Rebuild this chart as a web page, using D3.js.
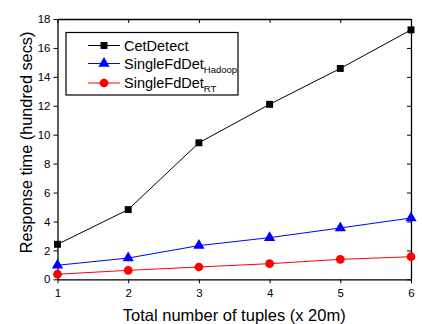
<!DOCTYPE html>
<html>
<head>
<meta charset="utf-8">
<script src="https://cdn.jsdelivr.net/npm/d3@7"></script>
<style>
  body { margin: 0; background: #fff; }
  text { font-family: "Liberation Sans", Arial, sans-serif; }
</style>
</head>
<body>
<div id="chart"></div>
<script>
// Data
const tuples = [1, 2, 3, 4, 5, 6];
const cetDetect = [2.42, 4.82, 9.44, 12.1, 14.58, 17.25];
const singleHadoop = [0.97, 1.47, 2.33, 2.88, 3.55, 4.24];
const singleRT = [0.35, 0.62, 0.85, 1.08, 1.38, 1.56];
const yTicks = [0, 2, 4, 6, 8, 10, 12, 14, 16, 18];

const series = [
  { name: "CetDetect", sub: "", values: cetDetect, color: "#000000", marker: d3.symbolSquare, size: 48 },
  { name: "SingleFdDet", sub: "Hadoop", values: singleHadoop, color: "#0000ff", marker: d3.symbolTriangle, size: 55 },
  { name: "SingleFdDet", sub: "RT", values: singleRT, color: "#ff0000", marker: d3.symbolCircle, size: 60 },
];

// Dimensions
const dimensions = { width: 422, height: 324, left: 57.5, right: 411, top: 19, bottom: 279.3 };

const svg = d3.select("#chart").append("svg")
  .attr("width", dimensions.width)
  .attr("height", dimensions.height);

const xScale = d3.scaleLinear().domain([1, 6]).range([dimensions.left, dimensions.right]);
const yScale = d3.scaleLinear().domain([0, 18]).range([dimensions.bottom, dimensions.top]);

// Axes
const bottomAxis = svg.append("g")
  .attr("transform", `translate(0,${dimensions.bottom})`)
  .call(d3.axisBottom(xScale).tickValues(tuples).tickFormat(d3.format("d")).tickSize(4).tickSizeOuter(0));
const leftAxis = svg.append("g")
  .attr("transform", `translate(${dimensions.left},0)`)
  .call(d3.axisLeft(yScale).tickValues(yTicks).tickSize(4).tickSizeOuter(0));
const topAxis = svg.append("g")
  .attr("transform", `translate(0,${dimensions.top})`)
  .call(d3.axisTop(xScale).tickValues(tuples).tickFormat("").tickSize(-4).tickSizeOuter(0));
const rightAxis = svg.append("g")
  .attr("transform", `translate(${dimensions.right},0)`)
  .call(d3.axisRight(yScale).tickValues(yTicks).tickFormat("").tickSize(-4).tickSizeOuter(0));

[bottomAxis, leftAxis, topAxis, rightAxis].forEach((g) => {
  g.select(".domain").attr("stroke", "#000").attr("stroke-width", 1.3);
  g.selectAll(".tick line").attr("stroke", "#000").attr("stroke-width", 1);
  g.selectAll(".tick text").attr("font-size", 11.5).attr("fill", "#000")
    .style("font-family", "'Liberation Sans', Arial, sans-serif");
});
bottomAxis.selectAll(".tick text").attr("dy", "0.95em");

// Axis titles
svg.append("text")
  .attr("x", (dimensions.left + dimensions.right) / 2)
  .attr("y", 321)
  .attr("text-anchor", "middle")
  .attr("font-size", 16.5)
  .text("Total number of tuples (x 20m)");

svg.append("text")
  .attr("transform", `translate(32,142.5) rotate(-90)`)
  .attr("text-anchor", "middle")
  .attr("font-size", 16.3)
  .text("Response time (hundred secs)");

// Lines and markers
const line = d3.line().x((d, i) => xScale(tuples[i])).y((d) => yScale(d));

series.forEach((s) => {
  svg.append("path")
    .datum(s.values)
    .attr("fill", "none")
    .attr("stroke", s.color)
    .attr("stroke-width", 1)
    .attr("d", line);

  svg.selectAll(null)
    .data(s.values)
    .join("path")
    .attr("transform", (d, i) => `translate(${xScale(tuples[i])},${yScale(d)})`)
    .attr("d", d3.symbol().type(s.marker).size(s.size))
    .attr("fill", s.color);
});

// Legend
const legend = svg.append("g");
legend.append("rect")
  .attr("x", 66).attr("y", 32.5)
  .attr("width", 172).attr("height", 62.5)
  .attr("fill", "#fff").attr("stroke", "#000").attr("stroke-width", 1.2);

const legendRows = [45.5, 63.5, 83];
series.forEach((s, i) => {
  const y = legendRows[i];
  legend.append("line")
    .attr("x1", 88).attr("x2", 120).attr("y1", y).attr("y2", y)
    .attr("stroke", s.color).attr("stroke-width", 1);
  legend.append("path")
    .attr("transform", `translate(104,${y})`)
    .attr("d", d3.symbol().type(s.marker).size(s.size))
    .attr("fill", s.color);
  const t = legend.append("text")
    .attr("x", 124).attr("y", y + 5)
    .attr("font-size", 14.5)
    .text(s.name);
  if (s.sub) {
    t.append("tspan").attr("dy", 4).attr("font-size", 9.5).text(s.sub);
  }
});
</script>
</body>
</html>
